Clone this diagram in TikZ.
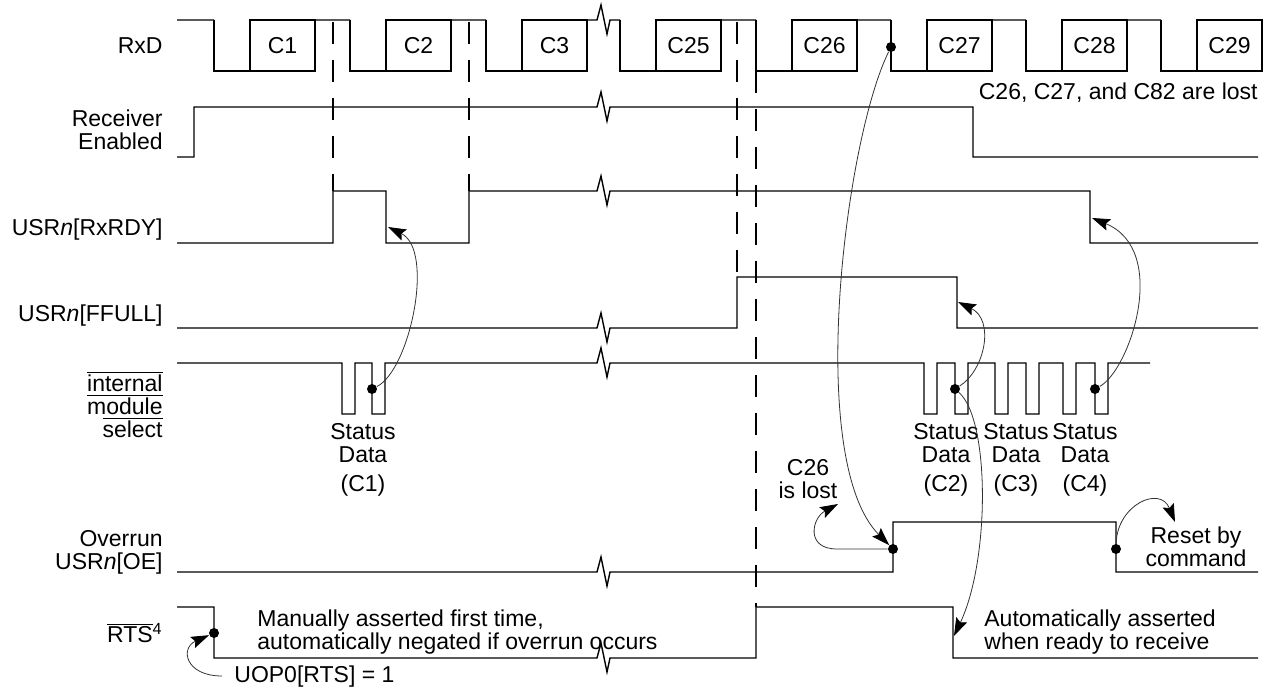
\documentclass[tikz,border=0pt]{standalone}
\usepackage{fontspec}
\setmainfont{Liberation Sans}
\usetikzlibrary{arrows.meta}

\newcommand{\ovl}[1]{$\overline{\mbox{#1}}$}

\begin{document}
\begin{tikzpicture}[x=0.5pt, y=-0.5pt, >={Stealth[length=9pt,width=6pt,inset=1.5pt,black]},
    sig/.style={line width=0.7pt},
    guide/.style={line width=0.6pt, dash pattern=on 11pt off 8pt},
    note/.style={line width=0.4pt, black!80},
    zz/.style={insert path={-- ++(4,-15) -- ++(6,29) -- ++(3,-14)}},
    lbl/.style={inner sep=0pt, font=\fontsize{11.5}{11.5}\selectfont},
    blob/.style={circle, fill, inner sep=0pt, minimum size=5pt}]

    \useasboundingbox (0,0) rectangle (1271,689);

    % Signal names (base = last line)
    \node[lbl, align=right, anchor=base east] (rxd) at (163,54) {RxD};
    \node[lbl, align=right, anchor=base east] (ren) at (163,150) {Receiver\\Enabled};
    \node[lbl, align=right, anchor=base east] (rdy) at (163,236) {USR\textit{n}[RxRDY]};
    \node[lbl, align=right, anchor=base east] (ffull) at (163,322) {USR\textit{n}[FFULL]};
    \node[lbl, align=right, anchor=base east] (ims) at (163,438) {\ovl{internal}\\\ovl{module}\\\ovl{select}};
    \node[lbl, align=right, anchor=base east] (oe) at (163,570) {Overrun\\USR\textit{n}[OE]};
    \node[lbl, align=right, anchor=base east] (rts) at (163,643) {\ovl{RTS}\textsuperscript{4}};

    % RxD with the characters
    \draw[sig] (177,20) -- (214,20) (315,20) -- (350,20) (451,20) -- (486,20)
        (587,20) -- (597,20) [zz] -- (620,20) (721,20) -- (756,20) (857,20) -- (891,20)
        (992,20) -- (1026,20) (1127,20) -- (1161,20);
    \foreach \L/\c in {250/C1,386/C2,522/C3,656/C25,792/C26,927/C27,1062/C28,1197/C29} {
        \draw[sig] (\L-36,20) |- (\L+65,71) -- (\L+65,20) -| (\L,71);
        \node[lbl] (\c) at (\L+32.5,46) {\c};
    }

    % Receiver Enabled
    \draw[sig] (177,157) -- (194,157) -- (194,107) -- (597,107) [zz] -- (973,107)
        -- (973,157) -- (1258,157);

    % RxRDY
    \draw[sig] (177,243) -- (333,243) -- (333,191) -- (386,191) -- (386,243) -- (469,243)
        -- (469,191) -- (597,191) [zz] -- (1090,191) -- (1090,243) -- (1258,243);

    % FFULL
    \draw[sig] (177,328) -- (597,328) [zz] -- (737,328) -- (737,277) -- (957,277)
        -- (957,328) -- (1258,328);

    % internal module select
    \draw[sig] (177,363) \foreach \p in {342,372} { -- (\p,363) -- (\p,414) -- (\p+13,414) -- (\p+13,363) }
        -- (597,363) [zz]
        \foreach \p in {924,955,995,1026,1063,1095} { -- (\p,363) -- (\p,414) -- (\p+13,414) -- (\p+13,363) }
        -- (1150,363);

    % Overrun
    \draw[sig] (177,572) -- (597,572) [zz] -- (893,572) -- (893,522) -- (1116,522)
        -- (1116,572) -- (1258,572);

    % RTS
    \draw[sig] (177,607) -- (214,607) -- (214,658) -- (597,658) [zz] -- (756,658)
        -- (756,607) -- (953,607) -- (953,658) -- (1258,658);

    % dashed guides
    \draw[guide] (333,22) -- (333,191);
    \draw[guide] (469,22) -- (469,191);
    \draw[guide] (737,22) -- (737,277);
    \draw[guide] (756,71) -- (756,607);

    % texts
    \node[lbl, align=center, anchor=base] (sd1txt) at (363,492) {Status\\Data\\[3pt](C1)};
    \node[lbl, align=center, anchor=base] (sd2txt) at (946,492) {Status\\Data\\[3pt](C2)};
    \node[lbl, align=center, anchor=base] (sd3txt) at (1016,492) {Status\\Data\\[3pt](C3)};
    \node[lbl, align=center, anchor=base] (sd4txt) at (1085,492) {Status\\Data\\[3pt](C4)};
    \node[lbl, align=center, anchor=base] (lost) at (808,499) {C26\\is lost};
    \node[lbl, anchor=base east] (lostall) at (1258,100) {C26, C27, and C82 are lost};
    \node[lbl, align=left, anchor=base west] (manual) at (257,650) {Manually asserted first time,\\automatically negated if overrun occurs};
    \node[lbl, align=left, anchor=base west] (auto) at (984,650) {Automatically asserted\\when ready to receive};
    \node[lbl, align=center, anchor=base] (reset) at (1196,567) {Reset by\\command};
    \node[lbl, anchor=base west] (uop) at (234,683) {UOP0[RTS] = 1};

    % dots and arrow ends
    \node[blob] (rxdot) at (891,47) {};
    \node[blob] (sd1) at (372,389) {};
    \node[blob] (sd2) at (955,389) {};
    \node[blob] (sd4) at (1095,389) {};
    \node[blob] (oedot) at (893,549) {};
    \node[blob] (rsdot) at (1116,549) {};
    \node[blob] (rtsdot) at (214,633) {};
    \coordinate (rdyA) at (388,227);
    \coordinate (rdyB) at (1092,218);
    \coordinate (ffA) at (958,302);
    \coordinate (rtsA) at (954,636);
    \coordinate (lostA) at (838,504);
    \coordinate (lostB) at (837,549);
    \coordinate (resetA) at (1175,522);
    \coordinate (uopA) at (222,676);

    % arrows
    \draw[note,->] (sd1) .. controls (410,370) and (435,250) .. (rdyA);
    \draw[note,->] (sd4) .. controls (1130,370) and (1170,250) .. (rdyB);
    \draw[note,->] (sd2) .. controls (985,370) and (995,320) .. (ffA);
    \draw[note,->] (sd2) .. controls (990,420) and (990,560) .. (rtsA);
    \draw[note,->] (rxdot) .. controls (845,140) and (805,460) .. (oedot);
    \draw[note,->] (oedot) -- (lostB) .. controls (805,549) and (812,518) .. (lostA);
    \draw[note,->] (rsdot) .. controls (1117,505) and (1160,485) .. (resetA);
    \draw[note,->] (uopA) .. controls (185,676) and (180,648) .. (rtsdot);

\end{tikzpicture}
\end{document}
